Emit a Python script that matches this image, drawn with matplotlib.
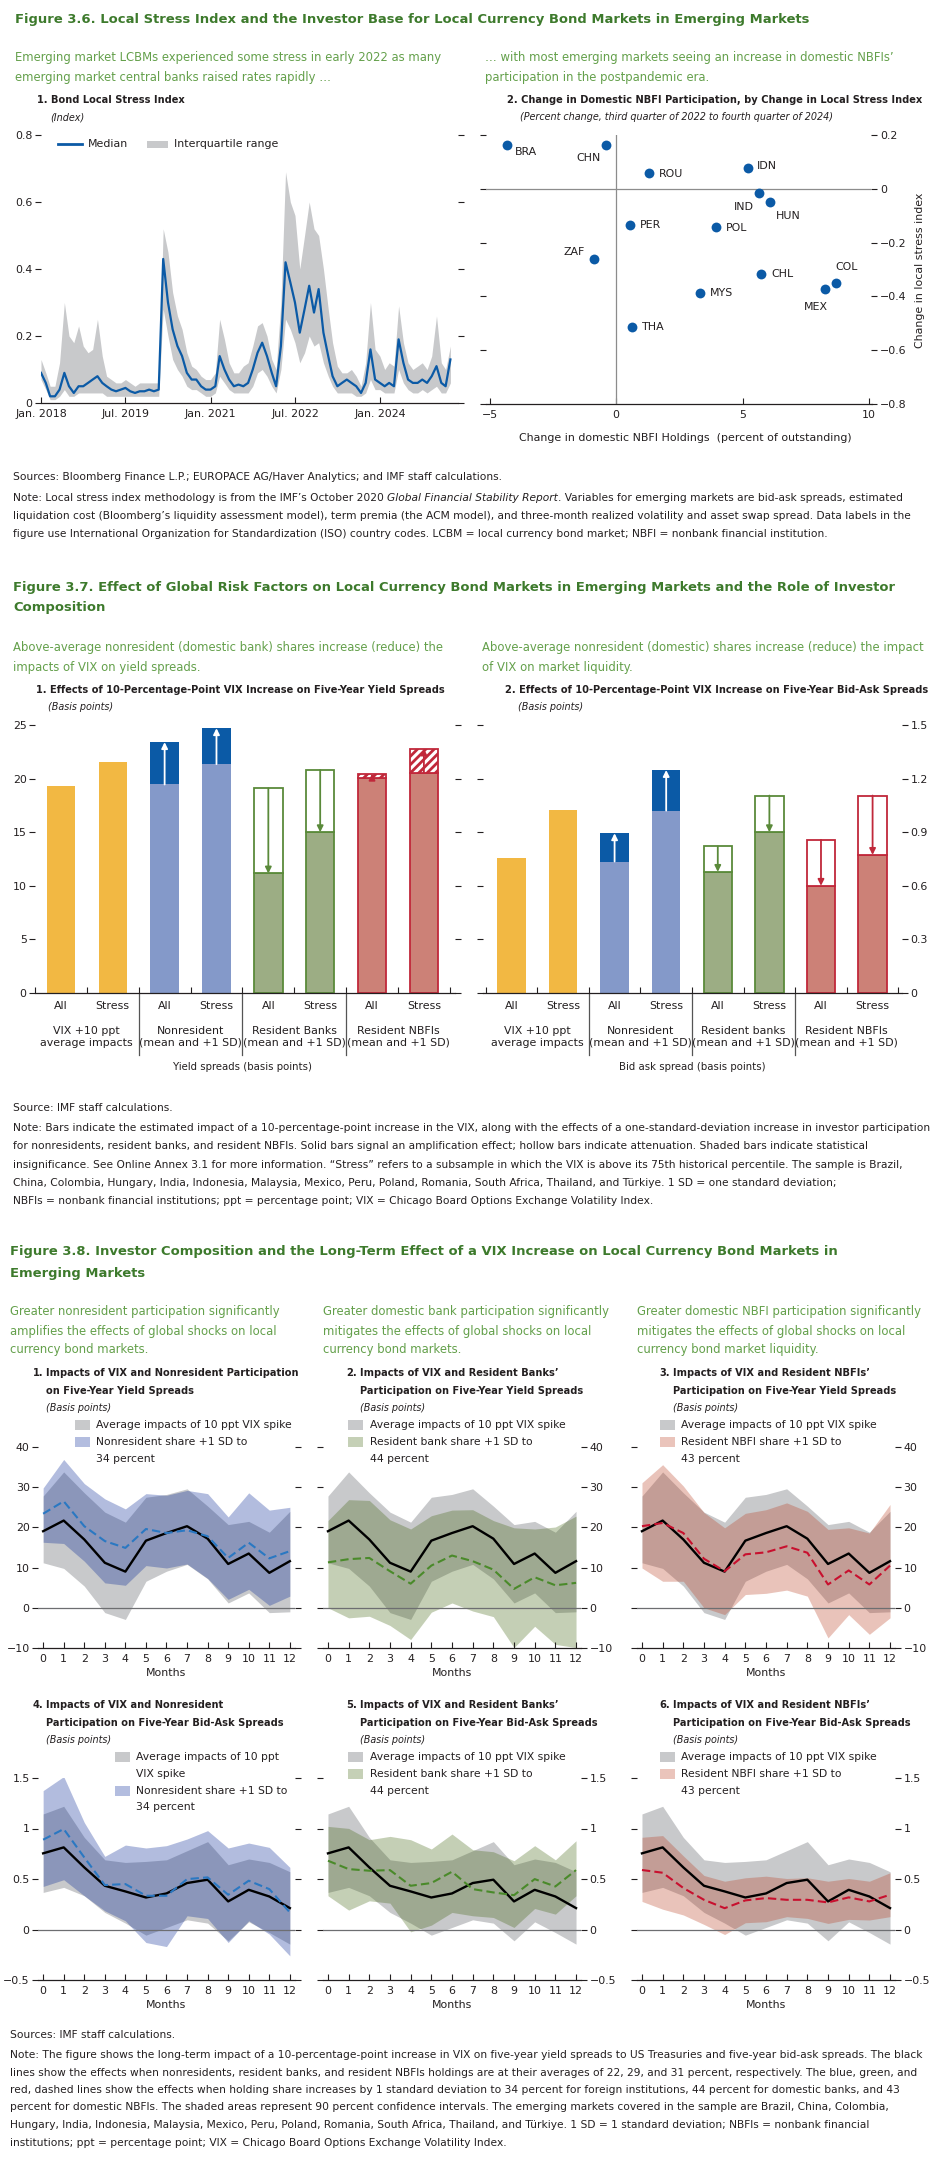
import numpy as np
import pandas as pd
import matplotlib
matplotlib.use("Agg")
import matplotlib.pyplot as plt
import matplotlib.transforms as mtransforms
from matplotlib.patches import Rectangle
from matplotlib.lines import Line2D

# ---------------- data: figure 3.6 ----------------
# monthly readings, Jan. 2018 to Apr. 2025
lsi_median = [0.09, 0.06, 0.02, 0.02, 0.04, 0.09, 0.05, 0.03, 0.05, 0.05, 0.06, 0.07,
              0.08, 0.06, 0.05, 0.04, 0.035, 0.04, 0.045, 0.035, 0.03, 0.035, 0.035, 0.04,
              0.035, 0.04, 0.43, 0.30, 0.22, 0.17, 0.14, 0.09, 0.07, 0.07, 0.05, 0.04,
              0.04, 0.05, 0.14, 0.10, 0.07, 0.05, 0.055, 0.05, 0.06, 0.10, 0.15, 0.18,
              0.14, 0.09, 0.05, 0.17, 0.42, 0.36, 0.30, 0.21, 0.28, 0.35, 0.27, 0.34,
              0.21, 0.14, 0.08, 0.05, 0.06, 0.07, 0.06, 0.05, 0.03, 0.06, 0.16, 0.07,
              0.06, 0.05, 0.06, 0.05, 0.19, 0.12, 0.07, 0.06, 0.06, 0.07, 0.06, 0.08,
              0.11, 0.06, 0.05, 0.13]
lsi_q75 = [0.13, 0.09, 0.05, 0.05, 0.12, 0.30, 0.20, 0.18, 0.23, 0.17, 0.15, 0.16,
           0.25, 0.14, 0.08, 0.07, 0.06, 0.06, 0.07, 0.06, 0.05, 0.06, 0.06, 0.06,
           0.06, 0.06, 0.52, 0.45, 0.33, 0.26, 0.22, 0.15, 0.11, 0.10, 0.08, 0.07,
           0.07, 0.09, 0.25, 0.19, 0.12, 0.09, 0.09, 0.11, 0.12, 0.17, 0.23, 0.24,
           0.20, 0.13, 0.10, 0.30, 0.69, 0.60, 0.56, 0.40, 0.50, 0.60, 0.52, 0.50,
           0.40, 0.28, 0.18, 0.11, 0.09, 0.09, 0.10, 0.08, 0.05, 0.12, 0.30, 0.16,
           0.14, 0.10, 0.12, 0.11, 0.29, 0.18, 0.12, 0.10, 0.11, 0.12, 0.10, 0.14,
           0.26, 0.12, 0.10, 0.17]
lsi_q25 = [0.07, 0.04, 0.01, 0.01, 0.02, 0.04, 0.02, 0.02, 0.03, 0.03, 0.03, 0.03,
           0.03, 0.03, 0.02, 0.02, 0.02, 0.02, 0.02, 0.02, 0.02, 0.02, 0.02, 0.02,
           0.02, 0.02, 0.28, 0.20, 0.13, 0.10, 0.08, 0.05, 0.04, 0.04, 0.03, 0.02,
           0.02, 0.03, 0.08, 0.06, 0.04, 0.03, 0.03, 0.03, 0.03, 0.05, 0.09, 0.10,
           0.08, 0.05, 0.03, 0.10, 0.25, 0.22, 0.18, 0.12, 0.15, 0.20, 0.17, 0.18,
           0.12, 0.08, 0.05, 0.03, 0.03, 0.03, 0.03, 0.02, 0.02, 0.03, 0.07, 0.04,
           0.04, 0.03, 0.03, 0.03, 0.10, 0.06, 0.04, 0.03, 0.03, 0.04, 0.03, 0.04,
           0.05, 0.03, 0.03, 0.06]
ts_start = "2018-01-01"
ts_ticks = ["2018-01-01", "2019-07-01", "2021-01-01", "2022-07-01", "2024-01-01"]
ts_tick_labels = ["Jan. 2018", "Jul. 2019", "Jan. 2021", "Jul. 2022", "Jan. 2024"]

countries = ["BRA", "CHN", "ROU", "IDN", "IND", "HUN", "PER", "POL", "ZAF", "CHL", "COL", "MEX", "MYS", "THA"]
nbfi_change = [-4.33, -0.40, 1.29, 5.20, 5.65, 6.08, 0.55, 3.96, -0.86, 5.74, 8.71, 8.28, 3.32, 0.62]
stress_change = [0.164, 0.161, 0.059, 0.078, -0.017, -0.050, -0.136, -0.142, -0.260, -0.315,
                 -0.351, -0.371, -0.387, -0.515]

# ---------------- data: figure 3.7 ----------------
bar_labels = ["All", "Stress"] * 4
groups_yield = ["VIX +10 ppt\naverage impacts", "Nonresident\n(mean and +1 SD)",
                "Resident Banks\n(mean and +1 SD)", "Resident NBFIs\n(mean and +1 SD)"]
groups_ba = ["VIX +10 ppt\naverage impacts", "Nonresident\n(mean and +1 SD)",
             "Resident banks\n(mean and +1 SD)", "Resident NBFIs\n(mean and +1 SD)"]
yield_base = [19.35, 21.55, 19.45, 21.35, 11.15, 15.0, 20.1, 20.55]
yield_top = [19.35, 21.55, 23.4, 24.7, 19.1, 20.8, 20.45, 22.8]
yield_kind = ["none", "none", "solid", "solid", "hollow", "hollow", "hatched", "hatched"]
ba_base_bars = [0.755, 1.025, 0.736, 1.021, 0.678, 0.90, 0.60, 0.773]
ba_top_bars = [0.755, 1.025, 0.894, 1.248, 0.82, 1.105, 0.857, 1.105]
ba_kind = ["none", "none", "solid", "solid", "hollow", "hollow", "hollow", "hollow"]

# ---------------- data: figure 3.8 ----------------
months = list(range(13))
ys_base = [19.05, 21.7, 17.0, 11.2, 9.0, 16.7, 18.6, 20.3, 17.2, 10.9, 13.5, 8.7, 11.6]
ys_base_lo = [11.2, 9.8, 5.4, -1.2, -2.9, 6.6, 9.1, 10.8, 7.2, 1.2, 3.7, -1.2, -1.0]
ys_base_hi = [27.8, 33.8, 28.6, 23.8, 21.3, 27.5, 28.2, 29.6, 25.3, 20.7, 21.5, 18.8, 24.0]
ys_nonres = [23.4, 26.5, 20.3, 16.6, 14.9, 19.6, 18.6, 19.3, 17.8, 12.4, 16.2, 12.3, 14.1]
ys_nonres_lo = [16.3, 16.0, 11.6, 6.2, 5.6, 10.5, 9.9, 10.9, 7.3, 2.1, 4.6, 0.6, 2.9]
ys_nonres_hi = [29.8, 36.9, 30.9, 27.1, 24.6, 28.4, 28.0, 29.2, 28.4, 22.6, 28.6, 24.3, 25.0]
ys_bank = [11.3, 12.1, 12.4, 9.1, 6.0, 10.5, 13.0, 11.6, 9.5, 4.7, 7.6, 5.6, 6.2]
ys_bank_lo = [0.0, -2.5, -2.1, -4.4, -7.9, -1.1, 1.2, -0.8, -2.2, -9.9, -4.6, -9.1, -9.9]
ys_bank_hi = [21.7, 26.9, 26.7, 21.9, 19.6, 22.9, 24.3, 24.4, 21.7, 19.9, 19.6, 20.1, 22.8]
ys_nbfi = [20.3, 21.1, 18.6, 12.2, 9.1, 13.3, 13.8, 15.3, 13.7, 5.8, 9.3, 5.8, 10.5]
ys_nbfi_lo = [9.9, 6.6, 6.6, 0.0, -1.7, 3.3, 3.6, 4.4, 2.9, -7.5, -1.7, -6.6, -2.5]
ys_nbfi_hi = [31.1, 35.6, 30.3, 23.7, 19.9, 23.5, 24.4, 26.1, 24.0, 19.5, 19.9, 18.6, 25.7]

ba_base = [0.754, 0.813, 0.615, 0.433, 0.377, 0.317, 0.357, 0.46, 0.493, 0.278, 0.393, 0.327, 0.212]
ba_base_lo = [0.367, 0.417, 0.334, 0.169, 0.063, -0.056, 0.02, 0.096, 0.063, -0.112, 0.076, -0.03, -0.145]
ba_base_hi = [1.144, 1.22, 0.912, 0.69, 0.664, 0.674, 0.69, 0.78, 0.87, 0.641, 0.698, 0.664, 0.572]
ba_nonres = [0.889, 0.995, 0.714, 0.44, 0.45, 0.334, 0.334, 0.499, 0.516, 0.344, 0.483, 0.40, 0.169]
ba_nonres_lo = [0.426, 0.493, 0.334, 0.185, 0.086, -0.129, -0.169, 0.136, 0.109, -0.129, 0.086, -0.046, -0.261]
ba_nonres_hi = [1.375, 1.514, 1.06, 0.724, 0.836, 0.807, 0.83, 0.896, 0.979, 0.807, 0.856, 0.813, 0.615]
ba_bank = [0.681, 0.598, 0.582, 0.588, 0.433, 0.46, 0.572, 0.40, 0.367, 0.34, 0.499, 0.426, 0.588]
ba_bank_lo = [0.334, 0.192, 0.284, 0.261, -0.023, 0.043, 0.169, 0.136, 0.119, 0.02, 0.208, 0.152, 0.334]
ba_bank_hi = [1.021, 1.001, 0.889, 0.922, 0.889, 0.797, 0.945, 0.79, 0.77, 0.681, 0.83, 0.69, 0.879]
ba_nbfi = [0.589, 0.562, 0.411, 0.294, 0.211, 0.288, 0.311, 0.294, 0.294, 0.268, 0.318, 0.278, 0.344]
ba_nbfi_lo = [0.278, 0.201, 0.144, 0.05, -0.05, 0.067, 0.077, 0.127, 0.11, 0.06, 0.10, 0.094, 0.127]
ba_nbfi_hi = [0.913, 0.93, 0.729, 0.535, 0.478, 0.512, 0.528, 0.505, 0.512, 0.478, 0.505, 0.478, 0.562]

# ---------------- style ----------------
plt.rcParams["font.family"] = ["Liberation Sans Narrow", "DejaVu Sans"]
plt.rcParams["hatch.linewidth"] = 2.0
INK = "#231F20"
GREEN_T = "#3D7A2C"
GREEN_S = "#64A04B"
BLUE = "#0B5AA6"
GREY_BAND = "#C8C9CB"

W, H = 945, 2180
fig = plt.figure(figsize=(W / 100, H / 100), dpi=100)
R = fig.canvas.get_renderer()


def add_ax(x0, y0, x1, y1):
    return fig.add_axes([x0 / W, 1 - y1 / H, (x1 - x0) / W, (y1 - y0) / H])


def ftext(x, y, s, **kw):
    kw.setdefault("va", "center")
    kw.setdefault("color", INK)
    return fig.text(x / W, 1 - y / H, s, **kw)


def width_of(s, **kw):
    t = fig.text(0, 0, s, **kw)
    w = t.get_window_extent(R).width
    t.remove()
    return w


def fit(s, target, **kw):
    return 10 * target / width_of(s, size=10, **kw)


def rich_line(x, y, parts, **kw):
    for s, st in parts:
        t = ftext(x, y, s, style=st, **kw)
        x += t.get_window_extent(R).width


def lines(x, y0, dy, txts, **kw):
    for i, s in enumerate(txts):
        ftext(x, y0 + i * dy, s, **kw)


def style(ax, side, size):
    for s in ("top", "left", "right"):
        ax.spines[s].set_visible(False)
    ax.spines["bottom"].set_color(INK)
    ax.spines["bottom"].set_linewidth(0.9)
    ax.tick_params(axis="y", direction="out", length=4, width=0.8, color=INK,
                   left=True, right=True, labelleft=(side == "left"),
                   labelright=(side == "right"), labelsize=size, labelcolor=INK, pad=2)
    ax.tick_params(axis="x", direction="in", length=4, width=0.8, color=INK,
                   labelsize=size, labelcolor=INK, pad=4)
    ax.set_facecolor("none")


title36 = "Figure 3.6. Local Stress Index and the Investor Base for Local Currency Bond Markets in Emerging Markets"
note37 = [
    "Note: Bars indicate the estimated impact of a 10-percentage-point increase in the VIX, along with the effects of a one-standard-deviation increase in investor participation",
    "for nonresidents, resident banks, and resident NBFIs. Solid bars signal an amplification effect; hollow bars indicate attenuation. Shaded bars indicate statistical",
    "insignificance. See Online Annex 3.1 for more information. \u201cStress\u201d refers to a subsample in which the VIX is above its 75th historical percentile. The sample is Brazil,",
    "China, Colombia, Hungary, India, Indonesia, Malaysia, Mexico, Peru, Poland, Romania, South Africa, Thailand, and T\u00fcrkiye. 1 SD = one standard deviation;",
    "NBFIs = nonbank financial institutions; ppt = percentage point; VIX = Chicago Board Options Exchange Volatility Index.",
]
note38 = [
    "Note: The figure shows the long-term impact of a 10-percentage-point increase in VIX on five-year yield spreads to US Treasuries and five-year bid-ask spreads. The black",
    "lines show the effects when nonresidents, resident banks, and resident NBFIs holdings are at their averages of 22, 29, and 31 percent, respectively. The blue, green, and",
    "red, dashed lines show the effects when holding share increases by 1 standard deviation to 34 percent for foreign institutions, 44 percent for domestic banks, and 43",
    "percent for domestic NBFIs. The shaded areas represent 90 percent confidence intervals. The emerging markets covered in the sample are Brazil, China, Colombia,",
    "Hungary, India, Indonesia, Malaysia, Mexico, Peru, Poland, Romania, South Africa, Thailand, and T\u00fcrkiye. 1 SD = 1 standard deviation; NBFIs = nonbank financial",
    "institutions; ppt = percentage point; VIX = Chicago Board Options Exchange Volatility Index.",
]

S_TITLE = fit(title36, 795, weight="bold")
S_SUB = fit("Emerging market LCBMs experienced some stress in early 2022 as many", 423)
S_PANEL = fit("2. Change in Domestic NBFI Participation, by Change in Local Stress Index", 413, weight="bold")
S_NOTE = fit(note37[0], 905)
S_TICK = fit("Jan. 2018", 52)
S_UNIT = S_PANEL * 0.98

# ================= Figure 3.6 =================
ftext(15, 20, title36, size=S_TITLE, weight="bold", color=GREEN_T)
lines(15, 58, 19, ["Emerging market LCBMs experienced some stress in early 2022 as many",
                   "emerging market central banks raised rates rapidly \u2026"], size=S_SUB, color=GREEN_S)
lines(485, 58, 19, ["\u2026 with most emerging markets seeing an increase in domestic NBFIs\u2019",
                    "participation in the postpandemic era."], size=S_SUB, color=GREEN_S)
ftext(37, 100, "1. Bond Local Stress Index", size=S_PANEL, weight="bold")
ftext(50, 117, "(Index)", size=S_UNIT, style="italic")
ftext(507, 100, "2. Change in Domestic NBFI Participation, by Change in Local Stress Index",
      size=S_PANEL, weight="bold")
ftext(520, 117, "(Percent change, third quarter of 2022 to fourth quarter of 2024)", size=S_UNIT, style="italic")

ax = add_ax(41, 135, 458, 403)
dates = pd.date_range(ts_start, periods=len(lsi_median), freq="MS")
ax.fill_between(dates, lsi_q25, lsi_q75, color=GREY_BAND, lw=0)
ax.plot(dates, lsi_median, color=BLUE, lw=1.6)
ax.set_xlim(pd.Timestamp("2018-01-01"), pd.Timestamp("2025-05-20"))
ax.set_ylim(0, 0.8)
ax.set_yticks([0, 0.2, 0.4, 0.6, 0.8], ["0", "0.2", "0.4", "0.6", "0.8"])
ax.set_xticks(pd.to_datetime(ts_ticks), ts_tick_labels)
style(ax, "left", S_TICK)
fig.add_artist(Line2D([58 / W, 82 / W], [1 - 144 / H] * 2, color=BLUE, lw=2))
ftext(88, 144, "Median", size=S_TICK)
fig.add_artist(Rectangle((147 / W, 1 - 148 / H), 21 / W, 7 / H, color=GREY_BAND, lw=0))
ftext(174, 144, "Interquartile range", size=S_TICK)

ax = add_ax(486, 135, 871.5, 404)
ax.axhline(0, color="#8C8C8C", lw=0.9)
ax.axvline(0, color="#8C8C8C", lw=0.9)
ax.scatter(nbfi_change, stress_change, s=50, color=BLUE, lw=0, zorder=3)
label_pos = {"BRA": (6, -5, "left"), "CHN": (-4, -9, "right"), "ROU": (7, -1, "left"),
             "IDN": (7, 1, "left"), "IND": (-4, -10, "right"), "HUN": (4, -10, "left"),
             "PER": (7, 0, "left"), "POL": (7, -1, "left"), "ZAF": (-7, 5, "right"),
             "CHL": (7, 0, "left"), "COL": (7, 12, "center"), "MEX": (-7, -13, "center"),
             "MYS": (7, 0, "left"), "THA": (7, 0, "left")}
for c, xv, yv in zip(countries, nbfi_change, stress_change):
    dx, dy, ha = label_pos[c]
    ax.annotate(c, (xv, yv), xytext=(dx, dy), textcoords="offset points", ha=ha, va="center",
                size=S_TICK, color=INK)
ax.set_xlim(-5.15, 10.1)
ax.set_ylim(-0.8, 0.2)
ax.set_xticks([-5, 0, 5, 10], ["\u22125", "0", "5", "10"])
ax.set_yticks([-0.8, -0.6, -0.4, -0.2, 0, 0.2], ["\u22120.8", "\u22120.6", "\u22120.4", "\u22120.2", "0", "0.2"])
style(ax, "right", S_TICK)
ftext(920, 270, "Change in local stress index", size=S_TICK, rotation=90, ha="center")
ftext(685, 438, "Change in domestic NBFI Holdings  (percent of outstanding)", size=S_TICK, ha="center")

ftext(13, 477, "Sources: Bloomberg Finance L.P.; EUROPACE AG/Haver Analytics; and IMF staff calculations.", size=S_NOTE)
rich_line(13, 498, [("Note: Local stress index methodology is from the IMF\u2019s October 2020 ", "normal"),
                    ("Global Financial Stability Report", "italic"),
                    (". Variables for emerging markets are bid-ask spreads, estimated", "normal")], size=S_NOTE)
lines(13, 516, 18, [
    "liquidation cost (Bloomberg\u2019s liquidity assessment model), term premia (the ACM model), and three-month realized volatility and asset swap spread. Data labels in the",
    "figure use International Organization for Standardization (ISO) country codes. LCBM = local currency bond market; NBFI = nonbank financial institution."],
    size=S_NOTE)

# ================= Figure 3.7 =================
lines(13, 587, 21, ["Figure 3.7. Effect of Global Risk Factors on Local Currency Bond Markets in Emerging Markets and the Role of Investor",
                    "Composition"], size=S_TITLE, weight="bold", color=GREEN_T)
lines(13, 648, 19, ["Above-average nonresident (domestic bank) shares increase (reduce) the",
                    "impacts of VIX on yield spreads."], size=S_SUB, color=GREEN_S)
lines(482, 648, 19, ["Above-average nonresident (domestic) shares increase (reduce) the impact",
                     "of VIX on market liquidity."], size=S_SUB, color=GREEN_S)
ftext(36, 690, "1. Effects of 10-Percentage-Point VIX Increase on Five-Year Yield Spreads", size=S_PANEL, weight="bold")
ftext(48, 707, "(Basis points)", size=S_UNIT, style="italic")
ftext(505, 690, "2. Effects of 10-Percentage-Point VIX Increase on Five-Year Bid-Ask Spreads", size=S_PANEL, weight="bold")
ftext(518, 707, "(Basis points)", size=S_UNIT, style="italic")

FILLS = ["#F2B843", "#8499C9", "#9CAD84", "#CC8177"]
EDGES = [None, None, "#5A8A3A", "#C0283A"]
DARKS = ["#F2B843", "#0B5AA6", "#5A8A3A", "#C0283A"]
BW = 0.55


def arrow(ax, x, y0, y1, color):
    ax.annotate("", xy=(x, y1), xytext=(x, y0),
                arrowprops=dict(arrowstyle="-|>", color=color, lw=1.3, mutation_scale=9,
                                shrinkA=0, shrinkB=0))


def draw_bars(ax, base, top, kinds, groups, xlabel, ax_top, ax_bot):
    for i, (b, t, k) in enumerate(zip(base, top, kinds)):
        g = i // 2
        fc, ec, dk = FILLS[g], EDGES[g], DARKS[g]
        ax.bar(i, b, width=BW, color=fc, edgecolor=ec or fc, linewidth=1.3 if ec else 0)
        if k == "solid":
            ax.bar(i, t - b, bottom=b, width=BW, color=dk, lw=0)
            arrow(ax, i, b, t, "white")
        elif k == "hollow":
            ax.bar(i, t - b, bottom=b, width=BW, facecolor="white", edgecolor=ec, linewidth=1.3)
            arrow(ax, i, t, b, ec)
        elif k == "hatched":
            ax.bar(i, t - b, bottom=b, width=BW, facecolor="white", edgecolor=ec, hatch="////", linewidth=1.3)
            arrow(ax, i, b, t, ec)
    ax.set_xticks(range(8), bar_labels)
    ax.set_xticks(np.arange(-0.5, 8, 1), minor=True)
    ax.tick_params(axis="x", which="major", length=0, pad=6)
    ax.tick_params(axis="x", which="minor", direction="in", length=4, width=0.8, color=INK)
    tr = mtransforms.blended_transform_factory(ax.transData, ax.transAxes)
    hpx = ax_bot - ax_top
    for xs in (1.5, 3.5, 5.5):
        ax.plot([xs, xs], [0, -(1055 - ax_bot) / hpx], transform=tr, clip_on=False, color="#555555", lw=0.9)
    for g, lab in enumerate(groups):
        ax.text(2 * g + 0.5, -(1037 - ax_bot) / hpx, lab, transform=tr, ha="center", va="center",
                size=S_TICK, color=INK, linespacing=1.2)
    ax.text(3.5, -(1067 - ax_bot) / hpx, xlabel, transform=tr, ha="center", va="center",
            size=S_TICK * 0.92, color=INK)


ax = add_ax(35, 725, 455, 993)
draw_bars(ax, yield_base, yield_top, yield_kind, groups_yield, "Yield spreads (basis points)", 725, 993)
ax.set_xlim(-0.5, 7.6)
ax.set_ylim(0, 25)
ax.set_yticks([0, 5, 10, 15, 20, 25])
style(ax, "left", S_TICK)
ax.tick_params(axis="x", which="major", length=0, pad=6)

ax = add_ax(483, 725, 902, 993)
draw_bars(ax, ba_base_bars, ba_top_bars, ba_kind, groups_ba, "Bid ask spread (basis points)", 725, 993)
ax.set_xlim(-0.55, 7.57)
ax.set_ylim(0, 1.5)
ax.set_yticks([0, 0.3, 0.6, 0.9, 1.2, 1.5], ["0", "0.3", "0.6", "0.9", "1.2", "1.5"])
style(ax, "right", S_TICK)
ax.tick_params(axis="x", which="major", length=0, pad=6)

ftext(13, 1108, "Source: IMF staff calculations.", size=S_NOTE)
lines(13, 1128, 18.3, note37, size=S_NOTE)

# ================= Figure 3.8 =================
lines(10, 1252, 21, ["Figure 3.8. Investor Composition and the Long-Term Effect of a VIX Increase on Local Currency Bond Markets in",
                     "Emerging Markets"], size=S_TITLE, weight="bold", color=GREEN_T)
lines(10, 1312, 19, ["Greater nonresident participation significantly",
                     "amplifies the effects of global shocks on local", "currency bond markets."],
      size=S_SUB, color=GREEN_S)
lines(323, 1312, 19, ["Greater domestic bank participation significantly",
                      "mitigates the effects of global shocks on local", "currency bond markets."],
      size=S_SUB, color=GREEN_S)
lines(637, 1312, 19, ["Greater domestic NBFI participation significantly",
                      "mitigates the effects of global shocks on local", "currency bond market liquidity."],
      size=S_SUB, color=GREEN_S)

COL_X = [(38, 295, 33, 46), (322.8, 581.2, 346, 360), (636.8, 895.2, 659, 673)]
ROWS = [(1447, 1648, 1373), (1778, 1980, 1705)]
ALT = {"blue": ("#002394", "#B3BDDF", "#2A78C2"),
       "green": ("#3E620C", "#C5D0B6", "#4A8A2A"),
       "red": ("#B93A1C", "#EAC4BB", "#C8102E")}

panels = [
    (0, 0, "1.", ["Impacts of VIX and Nonresident Participation", "on Five-Year Yield Spreads"],
     ys_base, ys_base_lo, ys_base_hi, ys_nonres, ys_nonres_lo, ys_nonres_hi, "blue",
     ["Average impacts of 10 ppt VIX spike"], ["Nonresident share +1 SD to", "34 percent"]),
    (1, 0, "2.", ["Impacts of VIX and Resident Banks\u2019", "Participation on Five-Year Yield Spreads"],
     ys_base, ys_base_lo, ys_base_hi, ys_bank, ys_bank_lo, ys_bank_hi, "green",
     ["Average impacts of 10 ppt VIX spike"], ["Resident bank share +1 SD to", "44 percent"]),
    (2, 0, "3.", ["Impacts of VIX and Resident NBFIs\u2019", "Participation on Five-Year Yield Spreads"],
     ys_base, ys_base_lo, ys_base_hi, ys_nbfi, ys_nbfi_lo, ys_nbfi_hi, "red",
     ["Average impacts of 10 ppt VIX spike"], ["Resident NBFI share +1 SD to", "43 percent"]),
    (0, 1, "4.", ["Impacts of VIX and Nonresident", "Participation on Five-Year Bid-Ask Spreads"],
     ba_base, ba_base_lo, ba_base_hi, ba_nonres, ba_nonres_lo, ba_nonres_hi, "blue",
     ["Average impacts of 10 ppt", "VIX spike"], ["Nonresident share +1 SD to", "34 percent"]),
    (1, 1, "5.", ["Impacts of VIX and Resident Banks\u2019", "Participation on Five-Year Bid-Ask Spreads"],
     ba_base, ba_base_lo, ba_base_hi, ba_bank, ba_bank_lo, ba_bank_hi, "green",
     ["Average impacts of 10 ppt VIX spike"], ["Resident bank share +1 SD to", "44 percent"]),
    (2, 1, "6.", ["Impacts of VIX and Resident NBFIs\u2019", "Participation on Five-Year Bid-Ask Spreads"],
     ba_base, ba_base_lo, ba_base_hi, ba_nbfi, ba_nbfi_lo, ba_nbfi_hi, "red",
     ["Average impacts of 10 ppt VIX spike"], ["Resident NBFI share +1 SD to", "43 percent"]),
]
LEG_X = [(75, 96), (348, 370), (660, 681)]
LEG_X_ROW2 = [(115, 136), (348, 370), (660, 681)]
S_LEG = S_TICK * 0.98

for col, row, num, ttl, b, blo, bhi, a, alo, ahi, key, leg1, leg2 in panels:
    x0, x1, xn, xt = COL_X[col]
    y0, y1, yt = ROWS[row]
    ftext(xn, yt, num, size=S_PANEL, weight="bold")
    lines(xt, yt, 17.5, ttl, size=S_PANEL, weight="bold")
    ftext(xt, yt + 35, "(Basis points)", size=S_UNIT, style="italic")
    # legend
    px, tx = (LEG_X_ROW2 if row == 1 and col == 0 else LEG_X)[col]
    ly = yt + 52
    for entries, color in ((leg1, GREY_BAND), (leg2, ALT[key][1])):
        fig.add_artist(Rectangle((px / W, 1 - (ly + 5) / H), 15 / W, 10 / H, color=color, lw=0))
        lines(tx, ly, 16.8, entries, size=S_LEG)
        ly += 16.8 * len(entries)

    ax = add_ax(x0, y0, x1, y1)
    ax.fill_between(months, blo, bhi, color=GREY_BAND, lw=0)
    ax.fill_between(months, alo, ahi, color=ALT[key][0], alpha=0.3, lw=0)
    ax.axhline(0, color="#6D6E71", lw=0.9)
    ax.plot(months, b, color="black", lw=1.7)
    ax.plot(months, a, color=ALT[key][2], lw=1.5, dashes=(4, 2))
    ax.set_xlim(-0.25, 12.25)
    ax.set_xticks(months)
    if row == 0:
        ax.set_ylim(-10, 40)
        ax.set_yticks([-10, 0, 10, 20, 30, 40], ["\u221210", "0", "10", "20", "30", "40"])
    else:
        ax.set_ylim(-0.5, 1.5)
        ax.set_yticks([-0.5, 0, 0.5, 1, 1.5], ["\u22120.5", "0", "0.5", "1", "1.5"])
    style(ax, "left" if col == 0 else "right", S_TICK)
    ax.set_xlabel("Months", size=S_TICK, color=INK, labelpad=3)

ftext(10, 2035, "Sources: IMF staff calculations.", size=S_NOTE)
lines(10, 2055, 17.5, note38, size=S_NOTE)

fig.savefig("out.png", dpi=100)
